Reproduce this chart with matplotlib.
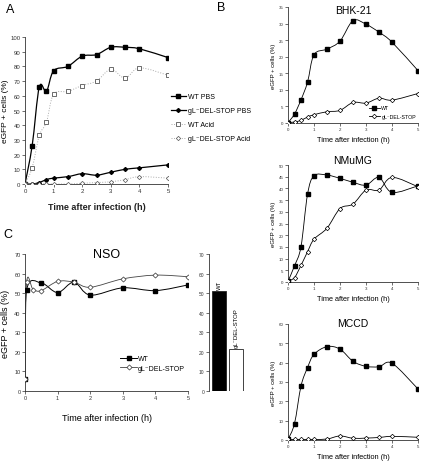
import numpy as np
import matplotlib
matplotlib.use("Agg")
import matplotlib.pyplot as plt
from matplotlib.path import Path
from matplotlib.patches import PathPatch
from matplotlib.lines import Line2D

plt.rcParams['font.family'] = ['Liberation Sans', 'DejaVu Sans']

# ---------------- data ----------------
# Panel A
a_t = [0, 0.25, 0.5, 0.75, 1, 1.5, 2, 2.5, 3, 3.5, 4, 5]
a_wt_pbs = [0, 26, 66, 63, 77, 80, 87, 88, 93, 93, 92, 86]
a_gl_pbs = [0, 0, 1, 3, 4, 5, 7, 6, 8, 10, 11, 13]
a_wt_acid = [0, 11, 33, 42, 61, 63, 67, 70, 78, 72, 79, 74]
a_gl_acid = [0, 0, 0, 0, 0, 0, 0.5, 1, 1.5, 3, 5, 4]
a_labels = ["WT PBS", "gL\u207bDEL-STOP PBS", "WT Acid", "gL\u207bDEL-STOP Acid"]

# Panel B
b_t = [0, 0.25, 0.5, 0.75, 1, 1.5, 2, 2.5, 3, 3.5, 4, 5]
bhk_wt = [0.1, 2.7, 7, 12.3, 20.6, 22.3, 24.7, 30.9, 29.8, 27.4, 24.4, 15.8]
bhk_gl = [0.1, 0.3, 0.8, 1.8, 2.5, 3.4, 3.8, 6.2, 6.0, 7.5, 6.9, 8.9]
nmumg_wt = [0.3, 6.9, 15.1, 37.4, 45.4, 45.7, 44.3, 42.6, 41.4, 44.7, 38.3, 41.1]
nmumg_gl = [0.4, 1.9, 7.1, 12.9, 18.3, 23, 31.4, 33.3, 39.3, 39.3, 44.7, 40.7]
mccd_wt = [0.3, 8.5, 27.9, 37.4, 44.3, 48.3, 47, 40.7, 38.1, 37.9, 39.7, 26.4]
mccd_gl = [0.3, 0.3, 0.3, 0.3, 0.3, 0.5, 2.1, 0.9, 1.0, 1.3, 1.9, 1.4]
b_labels = ["WT", "gL\u207bDEL-STOP"]

# Panel C
nso_t_wt = [0, 0.05, 0.5, 1, 1.5, 2, 3, 4, 5]
nso_wt = [6, 51.5, 55.2, 50.3, 55.6, 49, 52.7, 51.3, 54.2]
nso_t_gl = [0, 0.05, 0.25, 0.5, 1, 1.5, 2, 3, 4, 5]
nso_gl = [6, 55.5, 51.8, 51.3, 56, 55.6, 53, 57.3, 59.2, 58.4]
bar_labels = ["WT", "gL\u207bDEL-STOP"]
bar_values = [51, 21.5]

W, H = 421, 464
fig = plt.figure(figsize=(W / 100, H / 100), dpi=100)

def ax_px(x0, x1, y_top, y_bot):
    return fig.add_axes([x0 / W, 1 - y_bot / H, (x1 - x0) / W, (y_bot - y_top) / H])

AXC = '#333333'

def smooth(ax, x, y, color='black', lw=0.8, ls='-', zorder=2):
    x = np.asarray(x, float); y = np.asarray(y, float)
    n = len(x)
    verts = [(x[0], y[0])]
    codes = [Path.MOVETO]
    for i in range(n - 1):
        p0 = np.array([x[max(i - 1, 0)], y[max(i - 1, 0)]])
        p1 = np.array([x[i], y[i]])
        p2 = np.array([x[i + 1], y[i + 1]])
        p3 = np.array([x[min(i + 2, n - 1)], y[min(i + 2, n - 1)]])
        c1 = p1 + (p2 - p0) / 6.0
        c2 = p2 - (p3 - p1) / 6.0
        verts += [tuple(c1), tuple(c2), tuple(p2)]
        codes += [Path.CURVE4] * 3
    patch = PathPatch(Path(verts, codes), fill=False, edgecolor=color, lw=lw,
                      linestyle=ls, zorder=zorder)
    ax.add_patch(patch)

def style(ax, fs=4):
    for s in ['top', 'right']:
        ax.spines[s].set_visible(False)
    for s in ['left', 'bottom']:
        ax.spines[s].set_color(AXC)
        ax.spines[s].set_linewidth(0.6)
    ax.tick_params(labelsize=fs, length=2, width=0.5, pad=1.2, colors=AXC)

# ---------------- Panel A ----------------
axA = ax_px(25, 168, 38, 185)
style(axA, 4.3)
axA.set_xlim(0, 5); axA.set_ylim(0, 100)
axA.set_xticks(range(6)); axA.set_yticks(range(0, 101, 10))
smooth(axA, a_t, a_wt_pbs, 'black', 0.9)
smooth(axA, a_t, a_gl_pbs, 'black', 0.9)
smooth(axA, a_t, a_wt_acid, '#aaaaaa', 0.7, ':')
smooth(axA, a_t, a_gl_acid, '#aaaaaa', 0.7, ':')
axA.plot(a_t, a_wt_pbs, ls='none', marker='s', ms=3, color='black', zorder=3)
axA.plot(a_t, a_gl_pbs, ls='none', marker='D', ms=2, color='black', zorder=3)
axA.plot(a_t, a_wt_acid, ls='none', marker='s', ms=2.6, mfc='white', mec='#333333', mew=0.5, zorder=3)
axA.plot(a_t, a_gl_acid, ls='none', marker='D', ms=2.2, mfc='white', mec='#555555', mew=0.5, zorder=3)
axA.set_xlabel("Time after infection (h)", fontsize=6.5, fontweight='bold', labelpad=6, color='#222222')
axA.set_ylabel("eGFP + cells (%)", fontsize=6, labelpad=1)
hA = [Line2D([], [], color='black', lw=0.9, marker='s', ms=3),
      Line2D([], [], color='black', lw=0.9, marker='D', ms=2),
      Line2D([], [], color='#aaaaaa', lw=0.7, ls=':', marker='s', ms=2.6, mfc='white', mec='#333333', mew=0.5),
      Line2D([], [], color='#aaaaaa', lw=0.7, ls=':', marker='D', ms=2.2, mfc='white', mec='#555555', mew=0.5)]
axA.legend(hA, a_labels, loc='upper left', bbox_to_anchor=(1.0, 0.635), frameon=False,
           fontsize=5, handlelength=2.2, handletextpad=0.3, labelspacing=1.0, borderaxespad=0)

# ---------------- Panel B ----------------
def bpanel(y_top, y_bot, t, wt, gl, ymax, ystep, title, title_y, legend=False):
    ax = ax_px(288, 418, y_top, y_bot)
    style(ax, 3.2)
    ax.set_xlim(0, 5); ax.set_ylim(0, ymax)
    ax.set_xticks(range(6)); ax.set_yticks(np.arange(0, ymax + 0.1, ystep))
    smooth(ax, t, wt, 'black', 0.6)
    smooth(ax, t, gl, 'black', 0.6)
    ax.plot(t, wt, ls='none', marker='s', ms=2.8, color='black', zorder=3)
    ax.plot(t, gl, ls='none', marker='D', ms=2.3, mfc='white', mec='black', mew=0.5, zorder=3)
    ax.set_xlabel("Time after infection (h)", fontsize=5.3, labelpad=3)
    ax.set_ylabel("eGFP + cells (%)", fontsize=4.3, labelpad=2)
    fig.text(0.5 * (288 + 418) / W, 1 - title_y / H, title, fontsize=7.5, ha='center', va='center')
    if legend:
        h = [Line2D([], [], color='black', lw=0.6, marker='s', ms=2.8),
             Line2D([], [], color='black', lw=0.6, marker='D', ms=2.3, mfc='white', mec='black', mew=0.5)]
        ax.legend(h, b_labels, loc='lower right', bbox_to_anchor=(1.0, 0.02), frameon=False,
                  fontsize=3.8, handlelength=2.2, handletextpad=0.2, labelspacing=0.6, borderaxespad=0)
    return ax

bpanel(8, 124, b_t, bhk_wt, bhk_gl, 35, 5, "BHK-21", 11, legend=True)
bpanel(166, 283, b_t, nmumg_wt, nmumg_gl, 50, 5, "NMuMG", 161)
bpanel(325, 441, b_t, mccd_wt, mccd_gl, 60, 10, "MCCD", 324)

# ---------------- Panel C ----------------
axC = ax_px(25, 188, 255, 392)
style(axC, 4)
axC.set_xlim(0, 5); axC.set_ylim(0, 70)
axC.set_xticks(range(6)); axC.set_yticks(range(0, 71, 10))
smooth(axC, nso_t_wt, nso_wt, 'black', 0.7)
smooth(axC, nso_t_gl, nso_gl, '#444444', 0.6)
axC.plot(nso_t_wt, nso_wt, ls='none', marker='s', ms=3.3, color='black', zorder=3)
axC.plot(nso_t_gl, nso_gl, ls='none', marker='D', ms=2.6, mfc='white', mec='#333333', mew=0.5, zorder=3)
axC.set_xlabel("Time after infection (h)", fontsize=6.5, labelpad=9)
axC.set_ylabel("eGFP + cells (%)", fontsize=6.5, labelpad=3)
axC.text(0.5, 1.0, "NSO", transform=axC.transAxes, fontsize=9, ha='center', va='center')
hC = [Line2D([], [], color='black', lw=0.7, marker='s', ms=3.3),
      Line2D([], [], color='#444444', lw=0.6, marker='D', ms=2.6, mfc='white', mec='#333333', mew=0.5)]
axC.legend(hC, b_labels, loc='lower right', bbox_to_anchor=(1.0, 0.12), frameon=False,
           fontsize=5, handlelength=2.4, handletextpad=0.2, labelspacing=0.4, borderaxespad=0)

axBar = ax_px(209, 246, 255, 392)
style(axBar, 3.5)
axBar.spines['bottom'].set_visible(False)
axBar.set_xlim(-0.6, 1.6); axBar.set_ylim(0, 70)
axBar.set_yticks(range(0, 71, 10)); axBar.set_xticks([])
axBar.bar([0, 1], bar_values, width=0.83, color=['black', 'white'], edgecolor='#222222', linewidth=0.6)
for i, (lab, v) in enumerate(zip(bar_labels, bar_values)):
    axBar.text(i, v + 1.2, lab, rotation=90, ha='center', va='bottom', fontsize=4.3)

# panel letters
fig.text(10 / W, 1 - 10 / H, "A", fontsize=9, va='center', ha='center')
fig.text(221 / W, 1 - 8 / H, "B", fontsize=9, va='center', ha='center')
fig.text(8 / W, 1 - 235 / H, "C", fontsize=9, va='center', ha='center')

fig.savefig("out.png", dpi=100)
